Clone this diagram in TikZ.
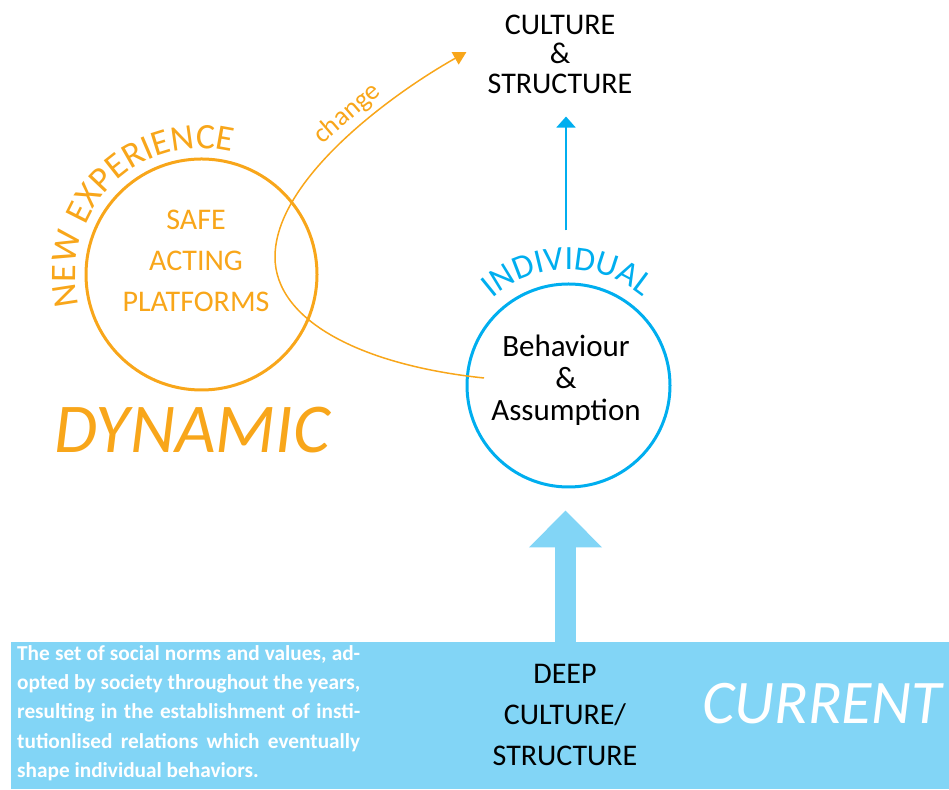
\documentclass[tikz,border=0pt]{standalone}
\usepackage{fontspec}
\setmainfont{Carlito}
\usetikzlibrary{arrows.meta,decorations.text,calc}
\definecolor{dynorange}{RGB}{248,166,26}
\definecolor{indblue}{RGB}{0,174,239}
\definecolor{curblue}{RGB}{130,213,246}
\newcommand{\fsz}[2]{\fontsize{#1}{#2}\selectfont}

\begin{document}
\begin{tikzpicture}[x=1pt,y=1pt]
\tikzstyle{every node}+=[inner sep=0pt]
\tikzstyle{ring}=[circle,line width=3pt]
\useasboundingbox (0,0) rectangle (949,789);
\node [ring,draw=dynorange,minimum size=231pt] (ocirc) at (201.5,514.5) {};
\node [align=center,text=dynorange,font=\fsz{30}{41}] (safe) at (196,528.5) {SAFE\\ACTING\\PLATFORMS};
\path [decorate,decoration={text along path,text align=center,text={|\fsz{36}{36}\color{dynorange}|NEW EXPERIENCE}}] ([shift={(197:126)}]ocirc.center) arc (197:73:126);
\node [anchor=base,text=dynorange,font=\fsz{70}{70}\itshape] (dyn) at (192,336) {DYNAMIC};
\node [ring,draw=indblue,minimum size=203pt] (bcirc) at (568.5,403.5) {};
\node [align=center,font=\fsz{31}{32}] (beh) at (566,408.5) {Behaviour\\\&\\Assumption};
\path [decorate,decoration={text along path,text align=center,text={|\fsz{34}{34}\color{indblue}|INDIVIDUAL}}] ([shift={(140:116)}]bcirc.center) arc (140:41:116);
\node [align=center,font=\fsz{30}{29.5}] (cult) at (560,735) {CULTURE\\\&\\STRUCTURE};
\node [fill=curblue,minimum width=938pt,minimum height=147pt,anchor=south west] (base) at (11,0) {};
\node [align=center,font=\fsz{30}{41}] (deep) at (565,74.5) {DEEP\\CULTURE/\\STRUCTURE};
\node [anchor=base west,text=white,font=\fsz{62}{62}\itshape] (cur) at (702,66) {CURRENT};
\node [anchor=north west,text width=343pt,align=justify,text=white,font=\fsz{21.3}{29.3}\bfseries] (desc) at (17,144) {The set of social norms and values, ad-\linebreak opted by society throughout the years,\linebreak resulting in the establishment of insti-\linebreak tutionlised relations which eventually\linebreak shape individual behaviors.};
\coordinate (bigtip) at ($(bcirc.south)+(-3,-22)$);
\draw [curblue,line width=21pt,-{Triangle[length=37pt,width=71pt]}] (bigtip |- base.north) -- (bigtip);
\draw [indblue,line width=2pt,-{Triangle[length=11pt,width=19pt]}] ($(bcirc.north)+(-2.5,52)$) -- ($(cult.south)+(6,-23)$);
\coordinate (cstart) at ($(bcirc.center)+(-84.5,7.5)$);
\coordinate (cend) at ($(cult.west)+(-21,2)$);
\draw [dynorange,line width=1.5pt,-{Triangle[length=13pt,width=14pt]}] (cstart) .. controls (360,424) and (275,469) .. (275,532) .. controls (275,609) and (390,694) .. (cend) node [pos=0.57,sloped,above=5pt,font=\fsz{27}{27}] (chg) {change};
\end{tikzpicture}
\end{document}
